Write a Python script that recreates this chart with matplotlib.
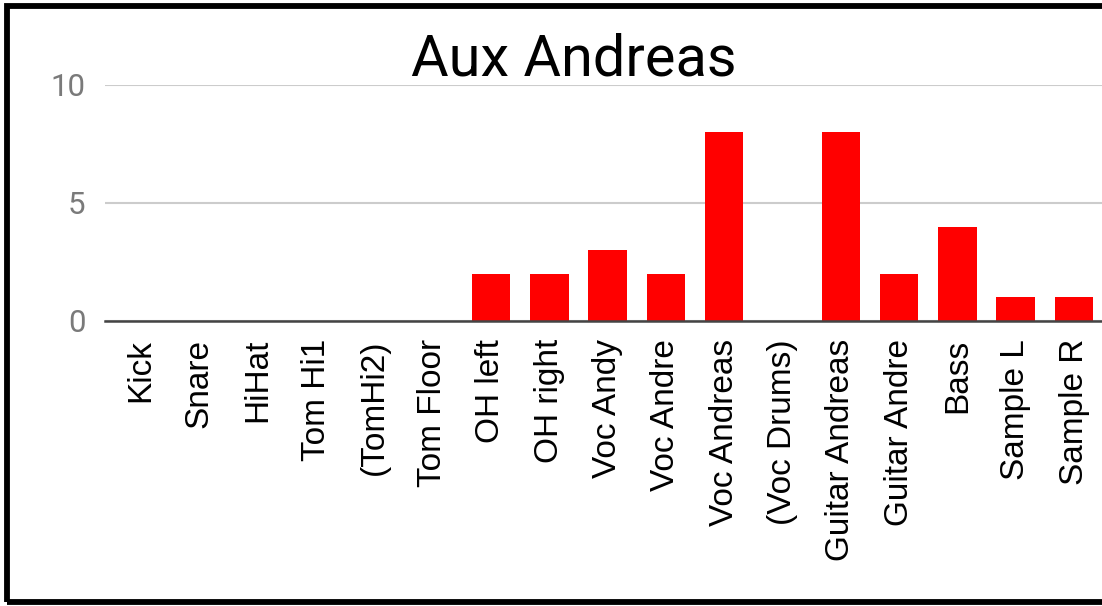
import matplotlib.pyplot as plt
from matplotlib.patches import Rectangle

channels = ["Kick", "Snare", "HiHat", "Tom Hi1", "(TomHi2)", "Tom Floor",
            "OH left", "OH right", "Voc Andy", "Voc Andre", "Voc Andreas",
            "(Voc Drums)", "Guitar Andreas", "Guitar Andre", "Bass",
            "Sample L", "Sample R"]
aux_levels = [0, 0, 0, 0, 0, 0, 2, 2, 3, 2, 8, 0, 8, 2, 4, 1, 1]
y_ticks = [0, 5, 10]

plt.rcParams['font.family'] = ['Roboto', 'DejaVu Sans']

fig = plt.figure(figsize=(11.02, 6.06), dpi=100)
ax = fig.add_axes([105 / 1102, 1 - 321 / 606, 1 - 105 / 1102, (321 - 85) / 606])

x = range(len(channels))
ax.bar(x, aux_levels, width=0.66, color="#ff0000", zorder=3)

ax.set_xlim(-0.62, 16.48)
ax.set_ylim(0, 10)
ax.set_yticks(y_ticks)
ax.set_xticks(list(x))
ax.set_xticklabels(channels, rotation=90, fontsize=24, color="black",
                   family=["Liberation Sans", "DejaVu Sans"])
ax.tick_params(axis="x", length=0, pad=13)
ax.tick_params(axis="y", length=0, pad=14, labelsize=22.5, labelcolor="#7a7a7a")

ax.grid(axis="y", color="#cccccc", linewidth=1.5, zorder=0)
for s in ["top", "right", "left"]:
    ax.spines[s].set_visible(False)
ax.spines["bottom"].set_color("#444444")
ax.spines["bottom"].set_linewidth(1.8)
ax.spines["bottom"].set_zorder(4)

fig.text(574 / 1102, 1 - 60 / 606, "Aux Andreas", fontsize=41.5,
         ha="center", va="center", color="black")

# black frame (cut off on the right)
fig.add_artist(Rectangle((6.5 / 1102, 1 - 601.5 / 606), 1.1, (601.5 - 5.5) / 606,
                         transform=fig.transFigure, fill=False,
                         edgecolor="black", linewidth=4.2))

fig.savefig("out.png", dpi=100)
